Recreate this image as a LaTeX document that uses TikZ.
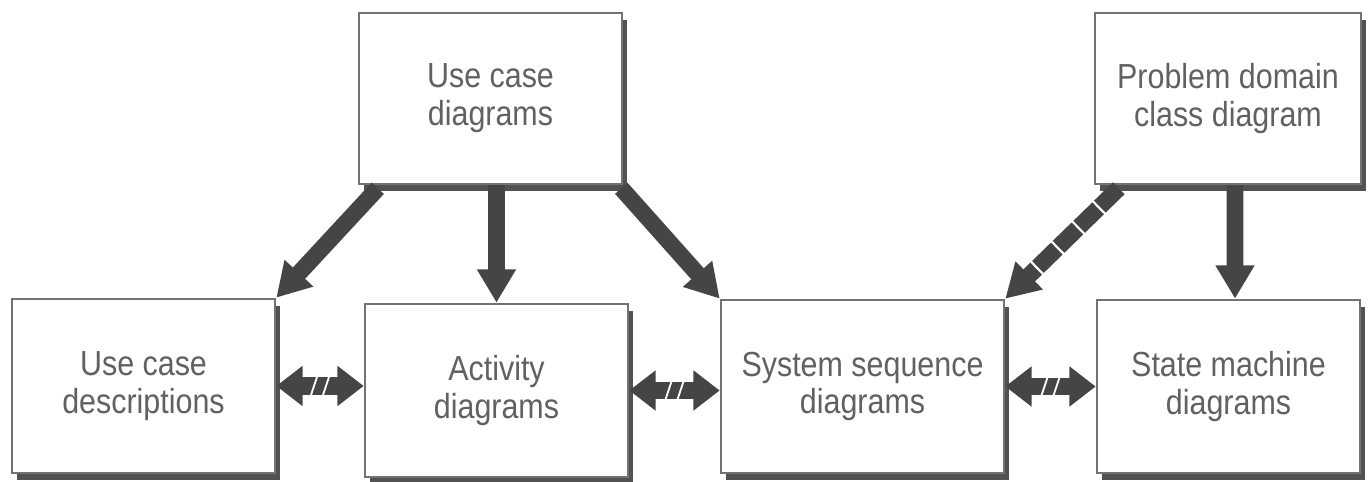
\documentclass[tikz,border=0pt]{standalone}
\usepackage{fontspec}
\setsansfont{Liberation Sans}[FakeStretch=0.875]
\usetikzlibrary{arrows.meta, calc, shadows}

\begin{document}
\begin{tikzpicture}[
  x=0.02cm, y=-0.02cm,
  every node/.style={font=\sffamily\fontsize{19.8}{21.5}\selectfont, align=center, text=black!62},
  box/.style={draw=black!55, line width=1.5pt, fill=white, inner sep=0pt,
    general shadow={fill=black!68, shadow xshift=2.6pt, shadow yshift=-4.2pt}},
  flow/.style={draw=black!73, line width=9.5pt, -{Triangle[width=21pt, length=19pt]}},
  link/.style={draw=black!73, line width=10pt,
    {Triangle[width=22pt, length=15pt]}-{Triangle[width=22pt, length=15pt]}},
  slash/.style={draw=white, line width=1pt}
]
\useasboundingbox (0,0) rectangle (1370,482);

% Top row
\node[box, minimum width=5.26cm, minimum height=3.42cm] (ucd) at (490.5,98.5) {Use case\\diagrams};
\node[box, minimum width=5.32cm, minimum height=3.42cm] (pdc) at (1228,98.5) {Problem domain\\class diagram};

% Bottom row
\node[box, minimum width=5.26cm, minimum height=3.48cm] (desc) at (143.5,386) {Use case\\descriptions};
\node[box, minimum width=5.26cm, minimum height=3.46cm] (act) at (496.5,390.5) {Activity\\diagrams};
\node[box, minimum width=5.66cm, minimum height=3.46cm] (ssd) at (862.5,386.5) {System sequence\\diagrams};
\node[box, minimum width=5.26cm, minimum height=3.46cm] (smd) at (1228.5,386.5) {State machine\\diagrams};

% Arrows from the top boxes
\draw[flow] ($(ucd.south west)+(20,3)$) -- (desc.north east);
\draw[flow] (ucd.south -| act.north) -- (act.north);
\draw[flow] ($(ucd.south east)+(-2,3)$) -- (ssd.north west);
\draw[flow, dash pattern=on 15pt off 1.4pt] ($(pdc.south west)+(25,3)$) -- (ssd.north east);
\draw[flow] ($(pdc.south)+(7,0)$) -- ($(smd.north)+(6.5,0)$);

% Two-way arrows
\foreach \a/\b in {desc/act, act/ssd, ssd/smd}{
  \draw[link] (\a.east) -- (\a.east -| \b.west);
  \coordinate (m) at ($(\a.east)!0.5!(\a.east -| \b.west)$);
  \foreach \s in {-6,6}
    \draw[slash] ($(m)+(\s-3,9)$) -- ($(m)+(\s+3,-9)$);
}

\end{tikzpicture}
\end{document}
